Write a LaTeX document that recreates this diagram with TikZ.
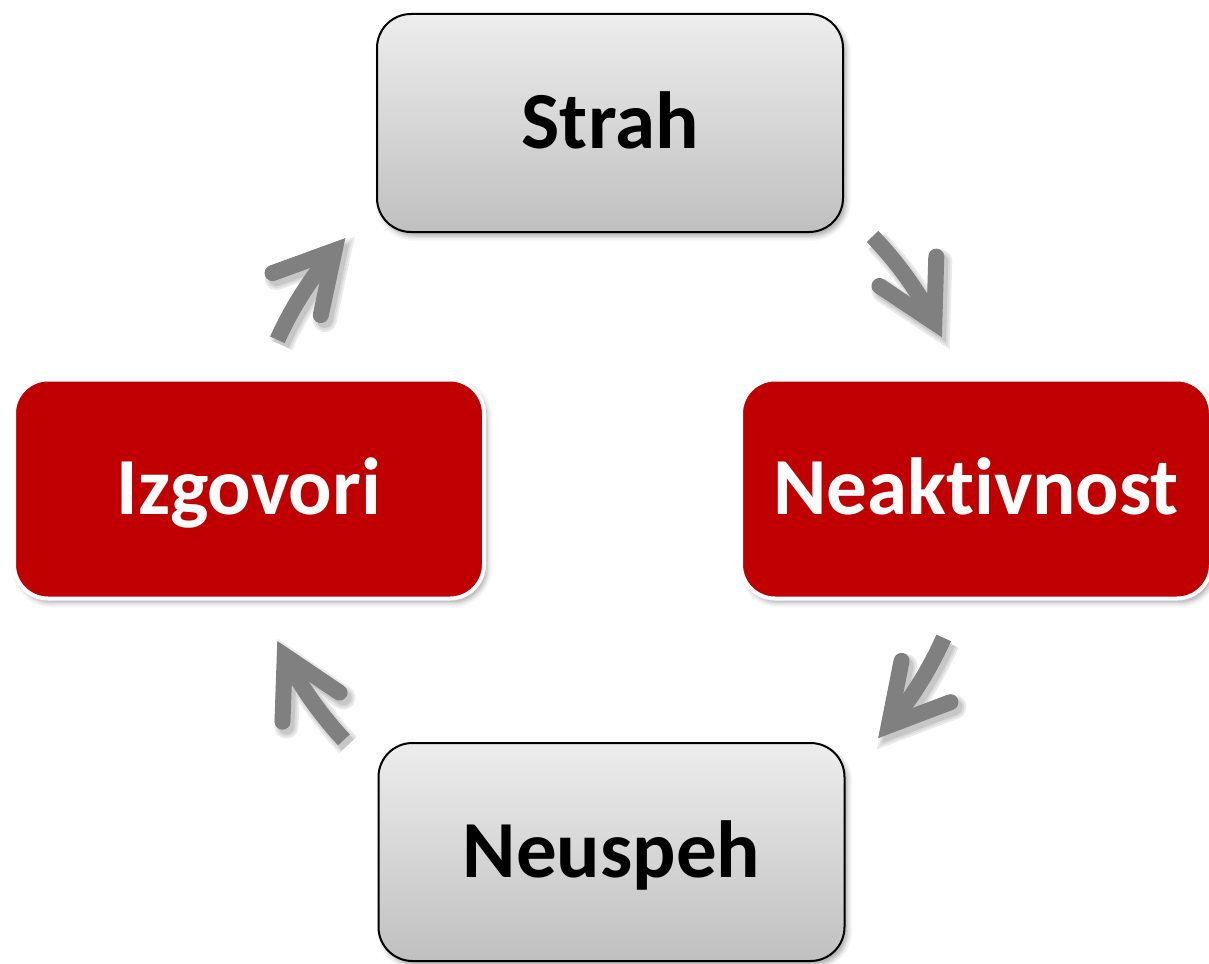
\documentclass[tikz,border=0pt]{standalone}
\usepackage{fontspec}
\setmainfont{Carlito}[Ligatures={NoCommon,NoContextual}]
\usetikzlibrary{calc,shadows.blur}
\definecolor{boxred}{HTML}{C00000}
\definecolor{arrgray}{HTML}{808080}
\definecolor{gtop}{HTML}{EDEDED}
\definecolor{gbot}{HTML}{C0C0C0}
\tikzset{
  cyclebox/.style={rectangle, rounded corners=34, inner sep=0,
    font=\fontsize{81}{90}\selectfont\bfseries, text height=51pt, text depth=0pt,
    blur shadow={shadow xshift=3pt, shadow yshift=-4pt, shadow blur radius=5pt, shadow opacity=35}},
  graybox/.style={cyclebox, draw=black, line width=2, top color=gtop, bottom color=gbot,
    text=black, minimum width=466, minimum height=218},
  redbox/.style={cyclebox, draw=white, line width=4, fill=boxred, text=white,
    minimum width=470, minimum height=219},
  shaft/.style={draw=arrgray, line width=16, line cap=butt},
  head/.style={draw=arrgray, line width=16, line cap=round, line join=miter},
}
\newcommand\cycarrow[3]{%
  \coordinate (#1s) at ($(C)+(#2:365)$);
  \coordinate (#1e) at ($(C)+(#3:365)$);
  \coordinate (#1a) at ($(#1e)+({#3-61}:66)$);
  \coordinate (#1b) at ($(#1e)+({#3-119}:66)$);
  \foreach \w/\c in {24/8,20/14,16/22}{%
    \draw[draw=black!\c, line width=\w, line cap=butt]
      ([shift={(4,5)}]#1s) arc[start angle=#2, end angle=#3, radius=365];
    \draw[draw=black!\c, line width=\w, line cap=round, line join=miter]
      ([shift={(4,5)}]#1a) -- ([shift={(4,5)}]#1e) -- ([shift={(4,5)}]#1b);
  }
  \draw[shaft] (#1s) arc[start angle=#2, end angle=#3, radius=365];
  \draw[head] (#1a) -- (#1e) -- (#1b);
}
\begin{document}
\begin{tikzpicture}[x=1pt, y=-1pt]
  \useasboundingbox (0,0) rectangle (1209,963);
  \coordinate (C) at (610,490);
  \node[graybox] (strah) at (610,123) {Strah};
  \node[redbox] (neakt) at (976,489) {Neaktivnost};
  \node[graybox] (neusp) at (611.5,852) {Neuspeh};
  \node[redbox] (izgov) at (249,489) {Izgovori};
  \cycarrow{a1}{-44}{-27.3}
  \cycarrow{a2}{23.9}{40.2}
  \cycarrow{a3}{204.3}{221}
  \cycarrow{a4}{136.8}{153}
\end{tikzpicture}
\end{document}
